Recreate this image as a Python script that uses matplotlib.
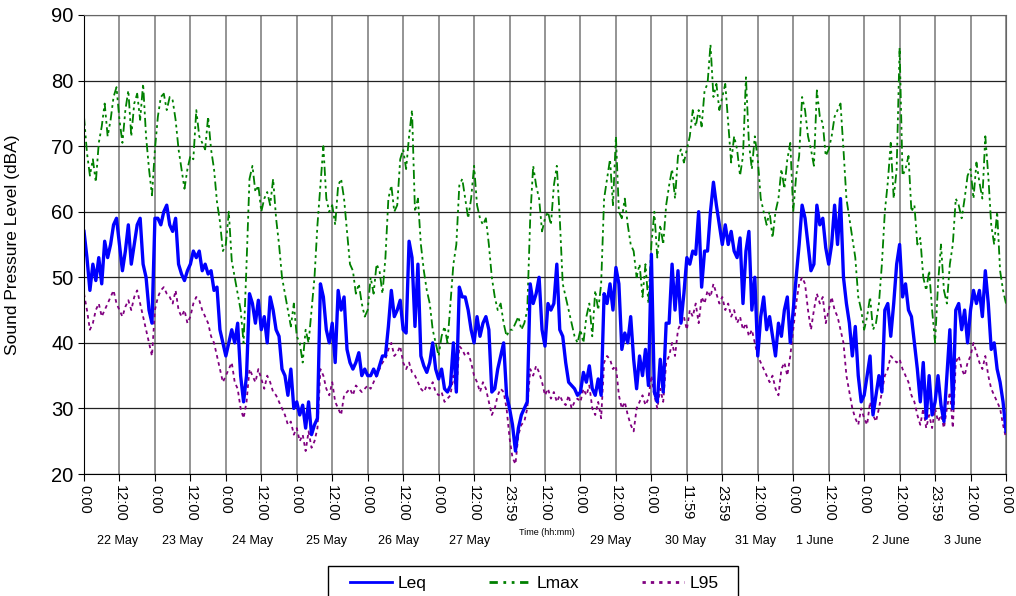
import numpy as np
import matplotlib.pyplot as plt
import matplotlib.transforms as mtransforms
from matplotlib.lines import Line2D
from matplotlib.patches import Rectangle

plt.rcParams['font.family'] = ['Liberation Sans', 'DejaVu Sans']

# hourly values, 22 May 0:00 -> 4 June 0:00 (dBA)
leq = [
    57, 53, 48, 52, 49.5, 53, 49, 55.5, 53, 55, 58, 59, 55, 51, 54, 58, 52, 55, 58, 59, 52, 50, 45, 43,
    59, 59, 58, 60, 61, 58, 57, 59, 52, 50.5, 49.5, 51, 52, 54, 53, 54, 51, 52, 50.5, 51, 48, 48.5, 42, 40,
    38, 40, 42, 40, 43, 35, 31, 35, 47.5, 46, 43, 46.5, 42, 44, 40, 47, 45, 42, 41, 36, 35, 32, 36, 30,
    31, 29, 30.5, 27, 31, 26, 27.5, 28.5, 49, 47, 42, 40, 43, 37, 48, 45, 47, 39, 37, 36, 37, 38.5, 35, 36,
    35, 35, 36, 35, 36.5, 38, 38, 42.5, 48, 44, 45, 46.5, 42, 41.5, 55.5, 53, 42.5, 52, 38, 36.5, 35.5, 37, 40, 36,
    34.5, 36, 33, 32.5, 33.5, 40, 32.5, 48.5, 47, 47, 45, 42, 40, 44, 41, 43, 44, 42, 32.5, 33, 36, 38, 40, 32,
    30, 27.5, 23.5, 27, 29, 30, 31, 49, 46, 47.5, 50, 42, 39.5, 46, 45, 46, 52, 42, 41, 37, 34, 33.5, 33, 32,
    32.5, 35.5, 34, 36.5, 33, 32, 34.5, 32, 47.5, 46, 49, 45, 51.5, 49, 39, 41.5, 40, 44, 37.5, 33, 38, 35, 39, 33.5,
    53.5, 32.5, 31, 37.5, 32.5, 43, 43, 52, 45, 51, 43, 47.5, 53, 52, 54, 53.5, 60, 48.5, 54, 54, 60, 64.5, 61, 58,
    55, 58, 55, 57, 54, 53, 56, 46, 54, 57, 45, 50, 38, 44, 47, 42, 44, 41, 38, 43, 41, 45, 47, 40,
    45, 50, 55, 61, 59, 55, 51, 52, 61, 58, 59, 54.5, 52, 55, 61, 55, 62, 50, 46, 43, 38, 42.5, 35, 31,
    32, 35, 38, 29, 32, 35, 32.5, 45, 46, 41, 46, 52, 55, 47, 49, 45, 44, 40, 36, 31, 37, 28.5, 35, 29,
    31, 35, 30.5, 28, 35, 42, 30, 45, 46, 42, 45, 40, 45, 48, 46, 48, 44, 51, 46, 39, 40, 36, 34, 31,
    26.5,
]

lmax = [
    74.5, 69, 65.5, 68, 64.5, 70.5, 73, 76.5, 71.5, 74, 77.5, 79, 74, 70.5, 75.5, 78.5, 71.5, 76.5, 78, 74, 79.5, 71.5, 66.5, 62.5,
    69.5, 74.5, 77.5, 78, 75.5, 77.5, 77, 74, 69.5, 66.5, 63.5, 66.5, 68.5, 68, 75.5, 71.5, 70.5, 69.5, 74.5, 69.5, 66.5, 61.5, 58.5, 54,
    55, 60, 52.5, 50, 47.5, 45, 40, 52, 65, 67, 63, 64, 60, 62, 63, 61, 65, 59, 55, 50, 47.5, 45, 42.5, 46,
    41, 40, 37, 42, 40, 45, 50, 58, 64, 70, 62, 60, 61, 58, 64, 65, 62, 57, 52, 51, 47.5, 49, 46, 44,
    45, 50, 47.5, 52, 51, 47.5, 53, 62, 64, 60, 61, 68, 69.5, 66.5, 71.5, 75.5, 60, 62, 55, 51, 48, 46, 42, 40,
    38, 41, 42.5, 40, 46, 52, 55, 64, 65, 62, 59, 62, 67, 61, 59, 58, 59, 55, 50, 47, 45, 46, 43, 41,
    42, 42, 43, 44, 42, 43, 45, 59, 67, 64, 62, 57, 59, 60, 58, 64, 67, 59, 49, 47, 45, 43, 41, 40,
    42, 40, 44, 46, 41, 48, 45, 49, 62, 65, 68, 61, 71.5, 60, 59, 62, 58, 55, 54, 50, 52, 47, 52, 46,
    55, 60, 53, 58, 55, 61, 64, 66.5, 62, 68.5, 69.5, 67.5, 69.5, 71.5, 75.5, 73, 75.5, 73, 78.5, 79.5, 85.5, 77.5, 79.5, 75.5,
    77.5, 79.5, 73.5, 67.5, 71.5, 69.5, 65.5, 68.5, 80.5, 70.5, 66.5, 71.5, 68, 62, 60, 58, 60, 56, 60, 62, 66.5, 63.5, 68, 70.5,
    60, 65.5, 68.5, 77.5, 75.5, 71.5, 69.5, 67, 78.5, 74.5, 73.5, 68.5, 69.5, 71.5, 74.5, 75.5, 76.5, 69.5, 62, 59, 56, 53, 47, 45,
    42, 44, 47, 42, 43, 46, 52, 60, 64.5, 70.5, 62, 66.5, 85, 65.5, 66.5, 68.5, 60, 61, 55, 56, 50, 48, 51, 45,
    40, 49, 55, 48, 46, 52, 55, 62, 61, 59, 62, 65.5, 66.5, 62, 67.5, 64.5, 62, 71.5, 65.5, 58, 55, 60, 51, 48,
    46,
]

l95 = [
    47.5, 45, 42, 43, 45, 46, 44, 45, 46, 47, 48, 46, 45, 44, 45.5, 46.5, 45, 47, 48, 46, 44, 42, 40, 38,
    45, 47, 48, 48.5, 47.5, 47, 46, 48, 45, 44, 45, 43, 44, 46, 47, 46.5, 45, 44, 43, 41, 40, 38, 36, 34,
    35, 36, 37, 34, 33, 30, 28.5, 31, 36, 35, 34, 36, 34.5, 33, 35, 34, 32.5, 32, 31, 30, 29, 27.5, 28, 26,
    27, 25, 26, 23.5, 26.5, 24, 25, 27, 36, 35, 33, 32, 34, 31, 30, 29, 32, 32.5, 33, 32, 33.5, 33, 32.5, 33,
    33.5, 33, 34, 35, 36, 37, 37.5, 39, 40, 38, 38.5, 39.5, 37, 36, 37, 35.5, 35, 34, 33, 32.5, 33.5, 33, 34, 32.5,
    32, 32.5, 31, 31.5, 32, 35, 32.5, 39.5, 39, 38, 38.5, 37, 35, 34, 32.5, 34, 33, 31, 29, 30, 32, 33, 32.5, 30,
    25.5, 22.5, 21.5, 26, 27.5, 28, 30, 36, 35, 36.5, 35.5, 34, 32, 33, 31.5, 32.5, 31, 32, 31, 30.5, 32, 30, 31, 31.5,
    31, 33, 32, 33.5, 30, 29, 31, 28.5, 37, 38, 37.5, 36, 36.5, 32, 30, 31, 29, 27.5, 26.5, 30, 31, 32, 30.5, 31.5,
    35, 32, 30, 33, 31, 37, 38, 40, 38, 42, 43, 44, 42, 45, 44, 46, 43, 47, 46, 48, 47, 49, 47.5, 46,
    47, 45, 46, 44, 45, 43, 44, 42, 43, 41, 42, 40, 38, 37, 36, 35, 34, 35, 33, 32, 36, 37, 35, 38,
    42, 46, 49, 50, 49, 45, 42, 45, 47.5, 46, 47, 43, 45, 47, 45, 44, 42, 40, 35, 32.5, 30, 28.5, 27.5, 30,
    28.5, 27.5, 31, 29, 28, 30, 32.5, 35, 36, 38, 37.5, 37, 37.5, 36, 35, 34, 32, 31, 29, 27.5, 30, 27, 29, 27,
    30, 28, 29, 27, 30, 32.5, 27, 37, 38, 36, 35, 37, 38, 40, 38.5, 37, 36, 38, 35, 33, 32, 31, 30, 27.5,
    25.5,
]

time_labels = [
    "0:00", "12:00", "0:00", "12:00", "0:00", "12:00", "0:00", "12:00", "0:00",
    "12:00", "0:00", "12:00", "23:59", "12:00", "0:00", "12:00", "0:00", "11:59",
    "23:59", "12:00", "0:00", "12:00", "0:00", "12:00", "23:59", "12:00", "0:00",
]

date_labels = ["22 May", "23 May", "24 May", "25 May", "26 May", "27 May", "Time (hh:mm)",
               "29 May", "30 May", "31 May", "1 June", "2 June", "3 June"]
date_pos = [11.2, 33.5, 57.2, 82.2, 106.3, 130.6, 156.7, 178.3, 203.4, 227.4, 247.4, 273.1, 297.5]

LEQ_C, LMAX_C, L95_C = "#0000FF", "#008000", "#800080"
LMAX_DASH, L95_DASH = (5, 2, 1.5, 2, 1.5, 2), (2, 2)

W, H = 1016, 596
fig = plt.figure(figsize=(W / 100, H / 100), dpi=100)
ax = fig.add_axes([84 / W, 1 - 474 / H, 922 / W, 459 / H])

hours = np.arange(len(leq))
ax.plot(hours, lmax, color=LMAX_C, lw=1.3, dashes=LMAX_DASH)
ax.plot(hours, l95, color=L95_C, lw=1.3, dashes=L95_DASH)
ax.plot(hours, leq, color=LEQ_C, lw=2.4)

ax.set_xlim(0, len(leq) - 1)
ax.set_ylim(20, 90)
ax.set_yticks(np.arange(20, 91, 10))
ax.set_xticks(np.arange(0, len(leq), 12))
ax.set_xticklabels(time_labels, rotation=270, fontsize=10.5)
ax.tick_params(axis="y", labelsize=14.5, direction="out", length=4)
ax.tick_params(axis="x", direction="out", length=5, pad=3)
ax.xaxis.grid(True, color="#777777", lw=1.1)
ax.yaxis.grid(True, color="#222222", lw=0.9)
ax.set_axisbelow(True)
for side in ("top", "right"):
    ax.spines[side].set_color("#666666")
for side in ("left", "bottom"):
    ax.spines[side].set_color("black")

ax.set_ylabel("Sound Pressure Level (dBA)", fontsize=12.5)
ax.yaxis.set_label_coords(-0.069, 0.5)

trans = mtransforms.blended_transform_factory(ax.transData, ax.transAxes)
for pos, lab in zip(date_pos, date_labels):
    if lab.startswith("Time"):
        ax.text(pos, -0.128, lab, transform=trans, ha="center", va="center", fontsize=6.5)
    else:
        ax.text(pos, -0.146, lab, transform=trans, ha="center", va="center", fontsize=9)

# legend: thin sample lines, square box running off the bottom edge
handles = [
    Line2D([], [], color=LEQ_C, lw=2),
    Line2D([], [], color=LMAX_C, lw=2, dashes=(3, 2, 1, 2, 1, 2)),
    Line2D([], [], color=L95_C, lw=2, dashes=(1.2, 1.8)),
]
fig.legend(handles, ["Leq", "Lmax", "L95"], loc="center",
           bbox_to_anchor=(534.5 / W, 1 - 583 / H), ncol=3, frameon=False,
           fontsize=12.5, handlelength=2.4, columnspacing=3.6,
           handletextpad=0.35, borderpad=0)
fig.patches.append(Rectangle((328 / W, -0.02), 410 / W, 0.02 + 1 - 566 / H,
                             transform=fig.transFigure, fill=False,
                             edgecolor="black", lw=1))

fig.savefig("out.png", dpi=100)
